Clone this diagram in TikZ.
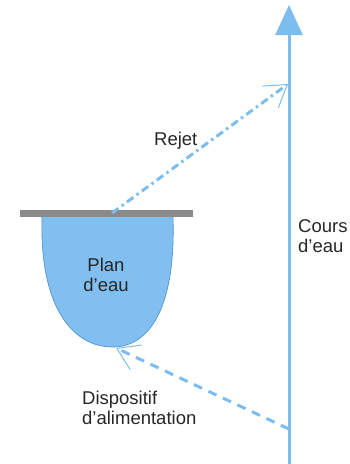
\documentclass[tikz,border=0pt]{standalone}
\usepackage{fontspec}
\setmainfont{Liberation Sans}
\usetikzlibrary{arrows.meta}
\definecolor{water}{HTML}{80BFF0}
\definecolor{waterline}{HTML}{4A8CCB}
\definecolor{flow}{HTML}{7CBDF0}
\definecolor{bar}{HTML}{8A8A8A}
\definecolor{txt}{HTML}{262626}
\tikzset{
  lbl/.style={inner sep=0pt, text=txt, font=\fontsize{18.5}{19.5}\selectfont, align=left},
  barb/.style={-{Straight Barb[length=21pt,width=27pt,line width=1pt]}},
  flowline/.style={draw=flow, line width=3pt},
}
\begin{document}
\begin{tikzpicture}[x=1pt,y=-1pt]
\useasboundingbox (0,0) rectangle (349,464);
% river
\coordinate (riverbot) at (289,466);
\coordinate (rivertop) at (289,5);
\draw[flowline, -{Triangle[length=30pt,width=27pt]}] (riverbot) -- (rivertop);
% pond
\fill[water, draw=waterline, line width=0.6pt] (42,216) .. controls (39,312) and (76,348) .. (114,347) .. controls (152,346) and (176,303) .. (173,216) -- cycle;
\fill[bar] (20,210) rectangle (193,217);
\coordinate (outlet) at (112,213);
\coordinate (inlet) at (116,348);
\coordinate (rejetend) at (288,84);
\coordinate (feedstart) at (289,429);
\node[lbl, align=center] (plan) at (106,275) {Plan\\d'eau};
% connectors
\draw[flowline, barb, dash pattern=on 8pt off 4pt on 2.5pt off 4pt] (outlet) -- (rejetend);
\draw[flowline, barb, dash pattern=on 9pt off 7pt] (feedstart) -- (inlet);
% labels
\node[lbl, anchor=base west] (rejet) at (154,145) {Rejet};
\node[lbl, anchor=base west] (cours) at (298,252) {Cours\\d'eau};
\node[lbl, anchor=base west] (disp) at (82,424) {Dispositif\\d'alimentation};
\end{tikzpicture}
\end{document}
